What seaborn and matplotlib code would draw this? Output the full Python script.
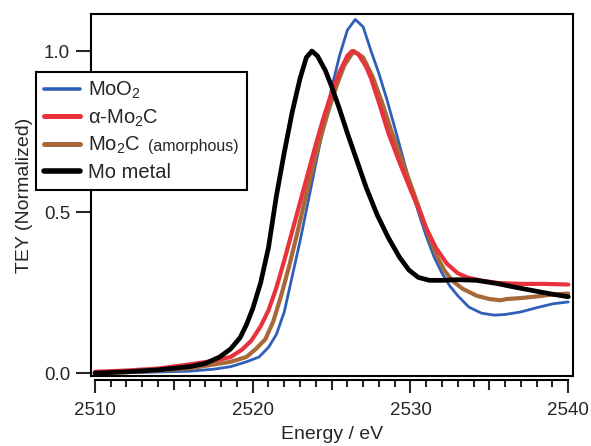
import numpy as np
import pandas as pd
import matplotlib
matplotlib.use("Agg")
import matplotlib.pyplot as plt
from matplotlib.lines import Line2D
from matplotlib.offsetbox import TextArea
import seaborn as sns

# ---------------- data ----------------
series_names = ["MoO$\\mathregular{_2}$", "\u03b1-Mo$\\mathregular{_2}$C",
                "Mo$\\mathregular{_2}$C", "Mo metal"]

moo2_E = [2510, 2513, 2516, 2517.5, 2518.6, 2519.6, 2520.4, 2521.0, 2521.5, 2522.0,
          2522.5, 2523.0, 2523.5, 2524.0, 2524.5, 2525.0, 2525.5, 2526.0, 2526.5,
          2527.0, 2527.5, 2528.0, 2528.5, 2529.1, 2529.6, 2530.1, 2530.5, 2531.0,
          2531.5, 2532.0, 2532.5, 2533.0, 2533.7, 2534.5, 2535.3, 2536.0, 2537.0,
          2538.0, 2539.0, 2540.0]
moo2_v = [0.0, 0.002, 0.006, 0.012, 0.02, 0.035, 0.05, 0.08, 0.12, 0.19,
          0.30, 0.41, 0.53, 0.65, 0.77, 0.885, 0.985, 1.065, 1.098,
          1.075, 1.00, 0.93, 0.85, 0.745, 0.655, 0.565, 0.50, 0.425,
          0.36, 0.31, 0.27, 0.24, 0.205, 0.186, 0.18, 0.182, 0.19,
          0.203, 0.215, 0.221]

amo2c_E = [2510, 2512, 2514, 2516, 2517.5, 2518.6, 2519.3, 2519.9, 2520.5, 2521.0,
           2521.5, 2522.0, 2522.5, 2523.0, 2523.5, 2524.0, 2524.5, 2525.0, 2525.5,
           2526.0, 2526.3, 2526.7, 2527.2, 2527.5, 2528.0, 2528.6, 2529.3, 2530.0,
           2530.6, 2531.0, 2531.6, 2532.3, 2533.0, 2533.6, 2534.5, 2535.5, 2537.0,
           2538.5, 2540.0]
amo2c_v = [0.004, 0.008, 0.014, 0.027, 0.038, 0.05, 0.072, 0.10, 0.145, 0.195,
           0.265, 0.35, 0.44, 0.53, 0.62, 0.71, 0.795, 0.87, 0.935,
           0.985, 1.0, 0.99, 0.95, 0.915, 0.84, 0.745, 0.655, 0.57,
           0.50, 0.45, 0.39, 0.34, 0.31, 0.297, 0.287, 0.28, 0.277,
           0.277, 0.275]

mo2c_E = [2510, 2512, 2514, 2516, 2517.3, 2518.6, 2519.6, 2520.2, 2520.8, 2521.3,
          2521.8, 2522.3, 2522.8, 2523.3, 2523.8, 2524.3, 2524.8, 2525.3, 2525.8,
          2526.4, 2527.0, 2527.6, 2528.2, 2528.8, 2529.5, 2530.2, 2530.7, 2531.2,
          2531.7, 2532.2, 2532.7, 2533.3, 2534.2, 2535.0, 2535.7, 2536.1, 2537.0,
          2538.0, 2539.0, 2540.0]
mo2c_v = [0.0, 0.003, 0.008, 0.015, 0.025, 0.035, 0.05, 0.075, 0.105, 0.16,
          0.24, 0.33, 0.43, 0.535, 0.635, 0.73, 0.815, 0.89, 0.955,
          1.0, 0.98, 0.92, 0.84, 0.75, 0.655, 0.56, 0.49, 0.42,
          0.36, 0.315, 0.285, 0.262, 0.24, 0.23, 0.226, 0.23, 0.233,
          0.238, 0.244, 0.247]

mo_E = [2510, 2512, 2514, 2516, 2517, 2517.9, 2518.6, 2519.2, 2519.6, 2520.0,
        2520.5, 2521.0, 2521.5, 2522.0, 2522.5, 2523.0, 2523.4, 2523.75, 2524.1,
        2524.6, 2525.0, 2525.5, 2526.0, 2526.6, 2527.2, 2527.9, 2528.6, 2529.3,
        2529.9, 2530.5, 2531.2, 2532.0, 2533.0, 2534.2, 2535.5, 2536.7, 2538.0,
        2539.0, 2540.0]
mo_v = [0.0, 0.004, 0.01, 0.02, 0.03, 0.05, 0.075, 0.11, 0.15, 0.20,
        0.28, 0.39, 0.55, 0.685, 0.81, 0.915, 0.98, 1.0, 0.985,
        0.94, 0.89, 0.82, 0.745, 0.66, 0.575, 0.49, 0.42, 0.36,
        0.32, 0.297, 0.288, 0.288, 0.29, 0.288, 0.278, 0.266, 0.254,
        0.245, 0.237]

x_ticks = [2510, 2520, 2530, 2540]
y_ticks = [0.0, 0.5, 1.0]
y_ticklabels = ["0.0", "0.5", "1.0"]
amorphous_note = "(amorphous)"

colors = ["#2f5fb8", "#e8323c", "#a8693a", "#000000"]
widths = [2.0, 3.0, 3.0, 3.4]
zorders = [2.2, 2.4, 2.3, 2.5]

# ---------------- long table ----------------
frames = []
for name, E, v in zip(series_names,
                      [moo2_E, amo2c_E, mo2c_E, mo_E],
                      [moo2_v, amo2c_v, mo2c_v, mo_v]):
    frames.append(pd.DataFrame({"Energy": E, "TEY": v, "Sample": name}))
df = pd.concat(frames, ignore_index=True)

# ---------------- style ----------------
sns.set_style("white")
plt.rcParams["font.family"] = ["Liberation Sans", "DejaVu Sans"]
plt.rcParams["mathtext.fontset"] = "custom"
plt.rcParams["mathtext.rm"] = "Liberation Sans"
plt.rcParams["mathtext.it"] = "Liberation Sans:italic"

W, H = 591, 446
fig = plt.figure(figsize=(W / 100, H / 100), dpi=100)
fig.patch.set_facecolor("white")
ax = fig.add_axes([91 / W, 1 - 376 / H, (573 - 91) / W, (376 - 14) / H])

sns.lineplot(data=df, x="Energy", y="TEY", hue="Sample", hue_order=series_names,
             palette=colors, estimator=None, sort=True, ax=ax, legend=False)

for ln, lw, z in zip(ax.lines, widths, zorders):
    ln.set_linewidth(lw)
    ln.set_zorder(z)
    ln.set_solid_capstyle("round")
    ln.set_solid_joinstyle("round")

ax.set_xlim(2509.75, 2540.3)
ax.set_ylim(-0.009, 1.115)

# frame
for s in ["top", "right", "left", "bottom"]:
    ax.spines[s].set_visible(True)
    ax.spines[s].set_color("black")
    ax.spines[s].set_linewidth(1.5)
ax.spines["bottom"].set_position(("outward", 3))
ax.spines["bottom"].set_bounds(2510, 2540)
ax.add_line(Line2D([0, 1], [0, 0], transform=ax.transAxes, color="black",
                   lw=1.5, clip_on=False))

# x ticks: majors every 5 (10s longer), minors every 1
major_x = list(range(2510, 2541, 5))
ax.set_xticks(major_x)
ax.set_xticklabels([str(t) if t in x_ticks else "" for t in major_x])
ax.set_xticks(np.arange(2510, 2541, 1), minor=True)
ax.tick_params(axis="x", which="major", direction="out", length=9.5, width=1.5,
               labelsize=13.5, pad=6, bottom=True, top=False)
ax.tick_params(axis="x", which="minor", direction="out", length=5, width=1.5,
               bottom=True, top=False)
for t, tk in zip(major_x, ax.xaxis.get_major_ticks()):
    if t not in x_ticks:
        tk.tick1line.set_markersize(7.5)

ax.set_yticks(y_ticks)
ax.set_yticklabels(y_ticklabels)
ax.tick_params(axis="y", which="major", direction="out", length=11, width=1.5,
               labelsize=13.5, pad=4, left=True, right=False)

ax.set_xlabel("Energy / eV", fontsize=14, labelpad=5)
ax.set_ylabel("TEY (Normalized)", fontsize=14, labelpad=8)

# legend
handles = [Line2D([], [], color=c, lw=lw + 0.6) for c, lw in zip(colors, widths)]
leg = ax.legend(handles, series_names, loc="upper left",
                bbox_to_anchor=(36 / W, 1 - 72 / H), bbox_transform=fig.transFigure,
                borderaxespad=0, fontsize=14.5, frameon=True, fancybox=False,
                framealpha=1, edgecolor="black", handlelength=1.8,
                handletextpad=0.4, labelspacing=0.32, borderpad=0.38)
leg.get_frame().set_linewidth(1.5)
leg.set_zorder(5)

# append the small "(amorphous)" note inside the third legend row
try:
    column = leg._legend_handle_box.get_children()[0]
    row = column.get_children()[2]
    note = TextArea(amorphous_note, textprops=dict(fontsize=11.5))
    note.set_figure(fig)
    row.get_children().append(note)
except Exception:
    fig.canvas.draw()
    bb = leg.get_texts()[2].get_window_extent()
    fig.text((bb.x1 + 5) / W, (bb.y0 + 3) / H, amorphous_note, fontsize=11.5,
             ha="left", va="bottom", zorder=6)

fig.savefig("out.png", dpi=100, facecolor="white")
